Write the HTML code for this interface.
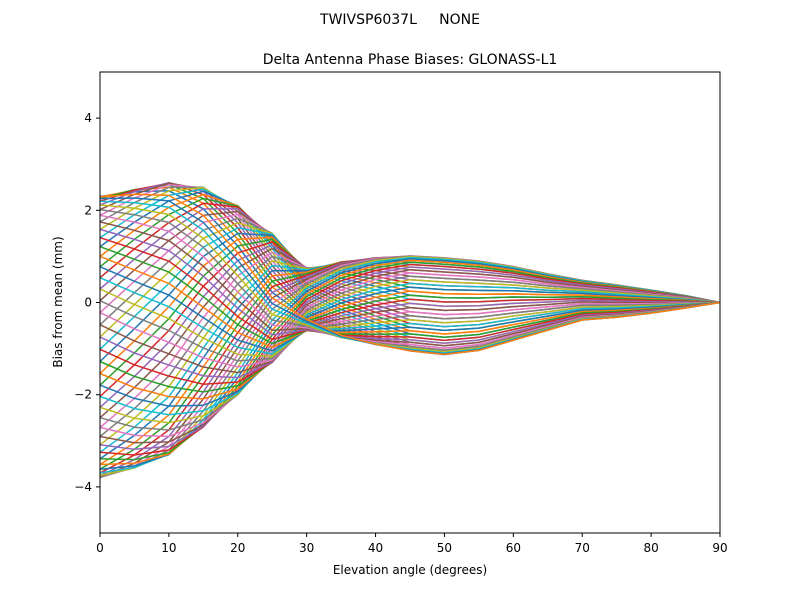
<!DOCTYPE html>
<html><head><meta charset="utf-8"><style>
body{margin:0;background:#fff;font-family:"Liberation Sans","DejaVu Sans",sans-serif;}
svg text{font-family:"DejaVu Sans","Liberation Sans",sans-serif;white-space:pre;}
</style></head><body>
<svg id="chart" width="800" height="600">
<rect width="800" height="600" fill="#fff"/>
<text x="400" y="24" text-anchor="middle" font-size="14" xml:space="preserve">TWIVSP6037L     NONE</text>
<text x="410" y="64" text-anchor="middle" font-size="14">Delta Antenna Phase Biases: GLONASS-L1</text>
<g id="lines"></g>
<rect x="100" y="72" width="620" height="461" fill="none" stroke="#000" stroke-width="1"/>
<g id="axes"></g>
<text x="410" y="574" text-anchor="middle" font-size="12">Elevation angle (degrees)</text>
<text transform="translate(62,302) rotate(-90)" text-anchor="middle" font-size="12">Bias from mean (mm)</text>
</svg>
<script>
const elevations=[0,5,10,15,20,25,30,35,40,45,50,55,60,65,70,75,80,85,90];
const meanBias=[-0.75,-0.57,-0.35,-0.1,0.05,0.1,0.07,0.06,0.03,-0.02,-0.08,-0.07,-0.02,0.01,0.05,0.03,0.02,0.015,0];
const amplitude=[3.05,3.02,2.95,2.6,2.05,1.4,0.68,0.82,0.94,1.03,1.05,0.97,0.8,0.61,0.43,0.35,0.25,0.135,0];
const phaseDeg=[0,10,20,35,55,85,125,155,170,180,180,180,180,180,180,180,180,180,180];
const azimuths=[0,5,10,15,20,25,30,35,40,45,50,55,60,65,70,75,80,85,90,95,100,105,110,115,120,125,130,135,140,145,150,155,160,165,170,175,180,185,190,195,200,205,210,215,220,225,230,235,240,245,250,255,260,265,270,275,280,285,290,295,300,305,310,315,320,325,330,335,340,345,350,355];
const xTicks=[0,10,20,30,40,50,60,70,80,90];
const yTicks=[-4,-2,0,2,4];
const colors=["#1f77b4","#ff7f0e","#2ca02c","#d62728","#9467bd","#8c564b","#e377c2","#7f7f7f","#bcbd22","#17becf"];
const X=v=>100+v/90*620;
const Y=v=>302.5-v*46.1;
const NS="http://www.w3.org/2000/svg";
const g=document.getElementById('lines');
azimuths.forEach((az,k)=>{
  const pts=elevations.map((e,i)=>{
    const v=meanBias[i]+amplitude[i]*Math.cos((az-phaseDeg[i])*Math.PI/180);
    return X(e).toFixed(1)+','+Y(v).toFixed(1);
  }).join(' ');
  const p=document.createElementNS(NS,'polyline');
  p.setAttribute('points',pts);
  p.setAttribute('fill','none');
  p.setAttribute('stroke',colors[k%10]);
  p.setAttribute('stroke-width','1.5');
  
  
  g.appendChild(p);
});
const ax=document.getElementById('axes');
xTicks.forEach(t=>{
  const l=document.createElementNS(NS,'line');
  l.setAttribute('x1',X(t));l.setAttribute('x2',X(t));l.setAttribute('y1',533);l.setAttribute('y2',537);l.setAttribute('stroke','#000');
  
  
  ax.appendChild(l);
  const tx=document.createElementNS(NS,'text');
  tx.setAttribute('x',X(t));tx.setAttribute('y',552);tx.setAttribute('text-anchor','middle');tx.setAttribute('font-size','12');
  tx.textContent=t;
  
  
  ax.appendChild(tx);
});
yTicks.forEach(t=>{
  const l=document.createElementNS(NS,'line');
  l.setAttribute('x1',96);l.setAttribute('x2',100);l.setAttribute('y1',Y(t));l.setAttribute('y2',Y(t));l.setAttribute('stroke','#000');
  
  
  ax.appendChild(l);
  const tx=document.createElementNS(NS,'text');
  tx.setAttribute('x',92);tx.setAttribute('y',Y(t)+4);tx.setAttribute('text-anchor','end');tx.setAttribute('font-size','12');
  tx.textContent=t<0?'\u2212'+Math.abs(t):t;
  
  
  ax.appendChild(tx);
});
</script>
</body></html>
